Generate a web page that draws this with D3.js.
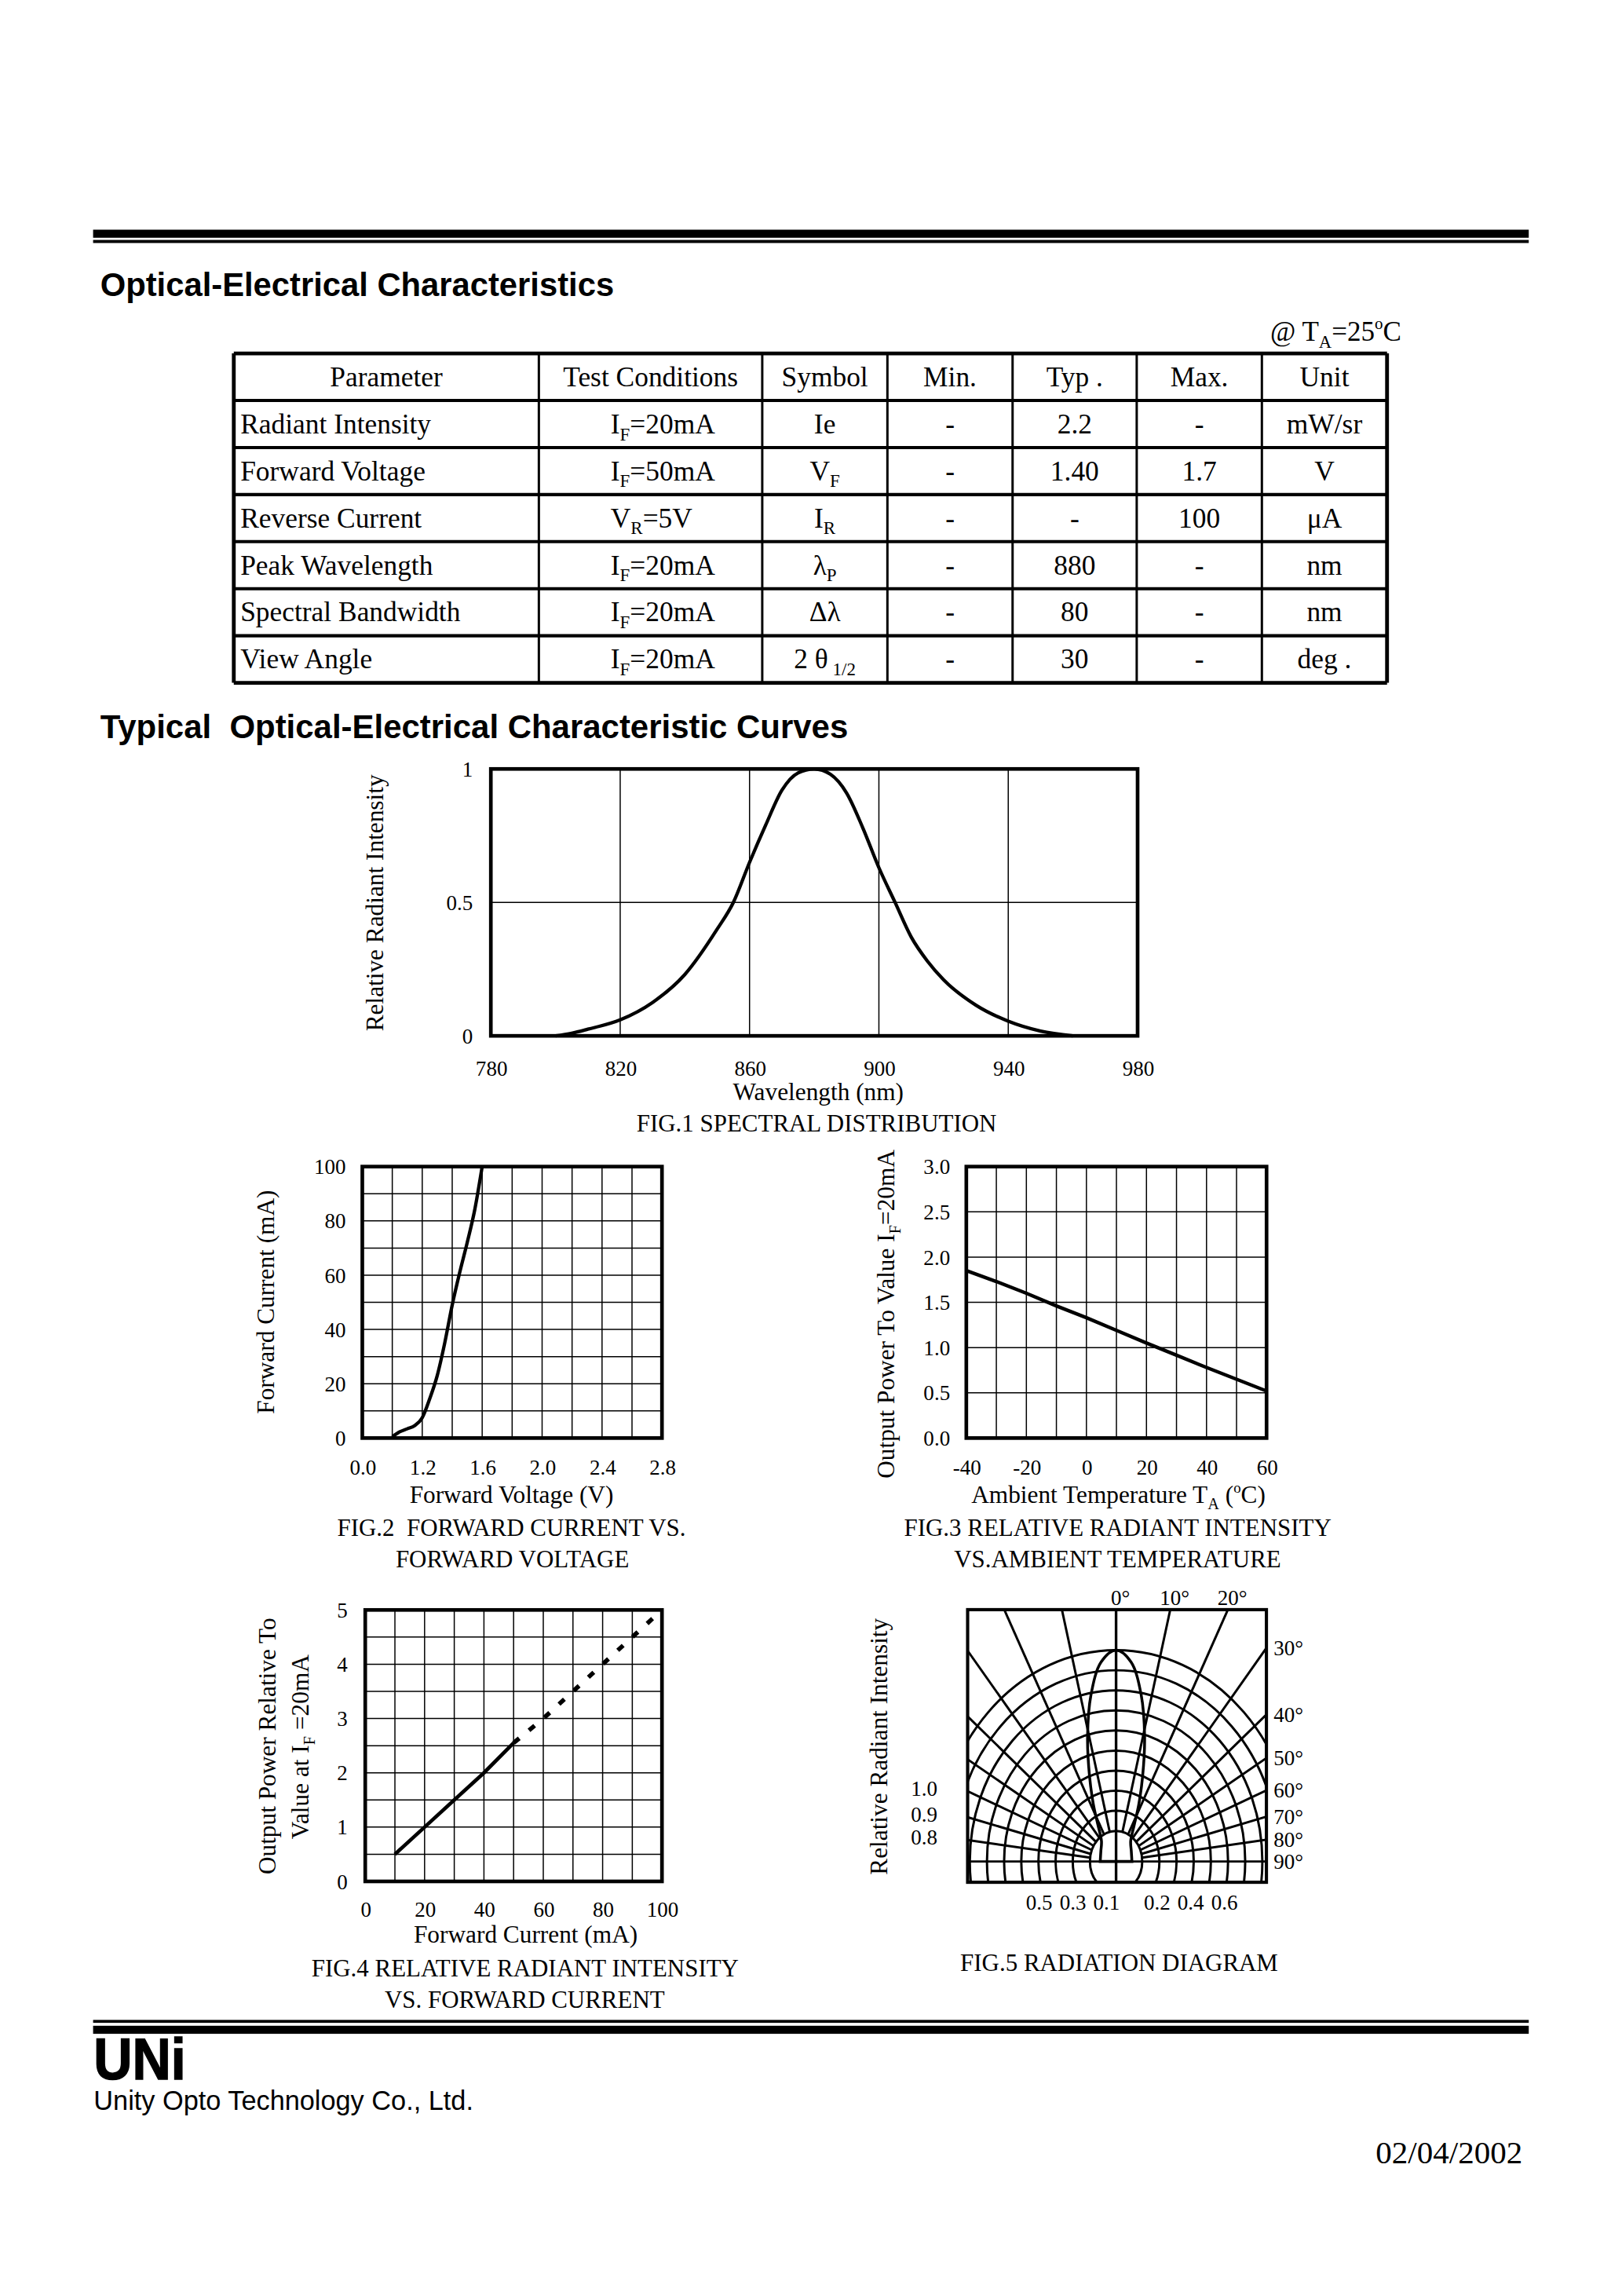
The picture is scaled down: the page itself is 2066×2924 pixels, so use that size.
<!DOCTYPE html>
<html>
<head>
<meta charset="utf-8">
<script src="https://cdn.jsdelivr.net/npm/d3@7"></script>
<style>
  body { margin: 0; background: #fff; }
  text { white-space: pre; }
</style>
</head>
<body>
<div id="page"></div>
<script>
// ---- table data ----
const tableHead = ['Parameter', 'Test Conditions', 'Symbol', 'Min.', 'Typ .', 'Max.', 'Unit']
const parameters = ['Radiant Intensity', 'Forward Voltage', 'Reverse Current', 'Peak Wavelength', 'Spectral Bandwidth', 'View Angle']
const conditions = ['I_{F}=20mA', 'I_{F}=50mA', 'V_{R}=5V', 'I_{F}=20mA', 'I_{F}=20mA', 'I_{F}=20mA']
const symbols = ['Ie', 'V_{F}', 'I_{R}', 'λ_{P}', 'Δλ', '2 θ_{ 1/2}']
const minVals = ['-', '-', '-', '-', '-', '-']
const typVals = ['2.2', '1.40', '-', '880', '80', '30']
const maxVals = ['-', '1.7', '100', '-', '-', '-']
const units = ['mW/sr', 'V', 'μA', 'nm', 'nm', 'deg .']

// ---- FIG.1 spectral distribution ----
const wlTicks = [780, 820, 860, 900, 940, 980]
const relTicks = [0, 0.5, 1]
const relLabels = ['0', '0.5', '1']
const wavelength = [800, 805, 810, 820, 830, 840, 850, 855, 860, 865, 870, 875, 880, 885, 890, 895, 900, 905, 910, 915, 920, 930, 940, 950, 960]
const relIntensity = [0, 0.01, 0.025, 0.06, 0.125, 0.23, 0.4, 0.5, 0.65, 0.79, 0.92, 0.985, 1.0, 0.98, 0.91, 0.78, 0.63, 0.5, 0.37, 0.28, 0.21, 0.115, 0.055, 0.018, 0]

// ---- FIG.2 forward current vs forward voltage ----
const vfTicks = [0.8, 1.2, 1.6, 2.0, 2.4, 2.8]
const vfLabels = ['0.0', '1.2', '1.6', '2.0', '2.4', '2.8']
const ifTicks = [0, 20, 40, 60, 80, 100]
const fwdVoltage = [1.0, 1.05, 1.1, 1.15, 1.2, 1.25, 1.3, 1.35, 1.4, 1.45, 1.5, 1.55, 1.6]
const fwdCurrent = [0.5, 2.3, 3.4, 4.6, 7.5, 14.5, 23, 35, 49, 61, 72, 84, 100]

// ---- FIG.3 relative intensity vs ambient temperature ----
const tempTicks = [-40, -20, 0, 20, 40, 60]
const pow3Ticks = [0, 0.5, 1, 1.5, 2, 2.5, 3]
const ambientTemp = [-40, -30, -20, -10, 0, 10, 20, 30, 40, 50, 60]
const powerVsTemp = [1.85, 1.73, 1.60, 1.46, 1.33, 1.19, 1.05, 0.915, 0.78, 0.65, 0.52]

// ---- FIG.4 relative intensity vs forward current ----
const currentTicks = [0, 20, 40, 60, 80, 100]
const pow4Ticks = [0, 1, 2, 3, 4, 5]
const currentSolid = [10, 20, 30, 40, 50]
const powerSolid = [0.5, 1.0, 1.5, 2.0, 2.55]
const currentDashed = [50, 60, 70, 80, 90, 100]
const powerDashed = [2.55, 3.0, 3.5, 4.0, 4.5, 5.0]

// ---- FIG.5 radiation diagram ----
const radRings = [0.1, 0.2, 0.3, 0.4, 0.5, 0.6, 0.7, 0.8, 0.9, 1.0]
const radSpokes = [10, 20, 30, 40, 50, 60, 70, 80]
const topAngles = [0, 10, 20]
const sideAngles = [30, 40, 50, 60, 70, 80, 90]
const leftValueLabels = ['1.0', '0.9', '0.8']
const leftValueAngles = [-60, -70, -80]
const bottomLeftVals = [0.5, 0.3, 0.1]
const bottomRightVals = [0.2, 0.4, 0.6]
const lobeAngles = [-90, -60, -40, -30, -25, -20, -15, -10, -5, 0, 5, 10, 15, 20, 25, 30, 40, 60, 90]
const lobeValues = [0.04, 0.05, 0.08, 0.16, 0.26, 0.40, 0.59, 0.79, 0.945, 1.0, 0.945, 0.79, 0.59, 0.40, 0.26, 0.16, 0.08, 0.05, 0.04]

const W = 1108, H = 1568
const SERIF = "'Liberation Serif', 'Times New Roman', serif"
const SANS = "'Liberation Sans', Arial, sans-serif"

const svg = d3.select('#page').append('svg')
  .attr('width', 2066).attr('height', 2924)
  .attr('viewBox', `0 0 ${W} ${H}`)
svg.append('rect').attr('width', W).attr('height', H).attr('fill', '#fff')

// text with _{sub} and ^{sup} parts
function rich(t, str, size) {
  let parts = str.split(/(_\{[^}]*\}|\^\{[^}]*\})/).filter(s => s.length)
  let shift = 0
  parts.forEach(p => {
    let target = 0, fs = null
    if (p.startsWith('_{')) { target = size * 0.25; fs = size * 0.65; p = p.slice(2, -1) }
    else if (p.startsWith('^{')) { target = -size * 0.42; fs = size * 0.6; p = p.slice(2, -1) }
    let ts = t.append('tspan').attr('dy', target - shift).text(p)
    if (fs) ts.attr('font-size', fs)
    shift = target
  })
  return t
}

function label(x, y, str, o) {
  o = o || {}
  let size = o.size || 16.7
  let t = svg.append('text')
    .attr('x', x).attr('y', y)
    .attr('font-family', o.family || SERIF)
    .attr('font-size', size)
    .attr('font-weight', o.weight || 'normal')
    .attr('text-anchor', o.anchor || 'middle')
    .attr('fill', '#000')
  return rich(t, str, size)
}

function vlabel(x, y, str, size) {
  let t = svg.append('text')
    .attr('transform', `translate(${x},${y}) rotate(-90)`)
    .attr('font-family', SERIF).attr('font-size', size)
    .attr('text-anchor', 'middle').attr('fill', '#000')
  return rich(t, str, size)
}

// gridded box with bottom/left tick labels
function frame(x, y, o) {
  let g = svg.append('g')
  let [xa, xb] = x.range(), [ya, yb] = y.range()
  g.append('g').selectAll('line').data(o.xGrid).join('line')
    .attr('x1', d => x(d)).attr('x2', d => x(d)).attr('y1', ya).attr('y2', yb)
    .attr('stroke', '#000').attr('stroke-width', 0.8)
  g.append('g').selectAll('line').data(o.yGrid).join('line')
    .attr('y1', d => y(d)).attr('y2', d => y(d)).attr('x1', xa).attr('x2', xb)
    .attr('stroke', '#000').attr('stroke-width', 0.8)

  let ax = g.append('g').attr('transform', `translate(0,${ya})`)
    .call(d3.axisBottom(x).tickValues(o.xTicks).tickSize(0)
      .tickFormat(d => o.xLabels ? o.xLabels[o.xTicks.indexOf(d)] : o.xFormat(d)))
  ax.select('.domain').remove()
  ax.selectAll('text').attr('y', o.xBase).attr('dy', null)
    .attr('font-family', SERIF).attr('font-size', 14.5).attr('fill', '#000')

  let ay = g.append('g').attr('transform', `translate(${xa},0)`)
    .call(d3.axisLeft(y).tickValues(o.yTicks).tickSize(0).tickPadding(o.yPad)
      .tickFormat(d => o.yLabels ? o.yLabels[o.yTicks.indexOf(d)] : o.yFormat(d)))
  ay.select('.domain').remove()
  ay.selectAll('text').attr('font-family', SERIF).attr('font-size', 14.5).attr('fill', '#000')

  g.append('rect')
    .attr('x', xa).attr('y', yb).attr('width', xb - xa).attr('height', ya - yb)
    .attr('fill', 'none').attr('stroke', '#000').attr('stroke-width', 2.5)
  return g
}

function curve(g, x, y, xs, ys, o) {
  o = o || {}
  let line = d3.line().x(d => x(d[0])).y(d => y(d[1])).curve(o.curve || d3.curveLinear)
  return g.append('path')
    .attr('d', line(d3.zip(xs, ys)))
    .attr('fill', 'none').attr('stroke', '#000')
    .attr('stroke-width', o.width || 2.3)
    .attr('stroke-dasharray', o.dash || null)
}

// ---- page header ----
svg.append('rect').attr('x', 63.6).attr('y', 156.8).attr('width', 980.7).attr('height', 5.5).attr('fill', '#000')
svg.append('rect').attr('x', 63.6).attr('y', 163.8).attr('width', 980.7).attr('height', 2.1).attr('fill', '#000')
label(68.5, 202.3, 'Optical-Electrical Characteristics', { family: SANS, weight: 'bold', size: 22.4, anchor: 'start' })
label(957.3, 232.7, '@ T_{A}=25^{o}C', { size: 18.8, anchor: 'end' })

// ---- table ----
const colEdges = [159.7, 368.1, 520.7, 606.2, 691.7, 776.5, 862, 947.5]
const rowY = d3.scaleLinear().domain([0, 7]).range([241.3, 466.3])
let tg = svg.append('g')
tg.selectAll('line.h').data(d3.range(8)).join('line')
  .attr('x1', colEdges[0]).attr('x2', colEdges[7])
  .attr('y1', d => rowY(d)).attr('y2', d => rowY(d))
  .attr('stroke', '#000').attr('stroke-width', d => (d === 0 || d === 7) ? 2.6 : 2.2)
tg.selectAll('line.v').data(colEdges).join('line')
  .attr('x1', d => d).attr('x2', d => d)
  .attr('y1', rowY(0)).attr('y2', rowY(7))
  .attr('stroke', '#000').attr('stroke-width', (d, i) => (i === 0 || i === 7) ? 2.6 : 1.6)

const colMid = i => (colEdges[i] + colEdges[i + 1]) / 2
const rowBase = r => (rowY(r) + rowY(r + 1)) / 2 + 6.3
tableHead.forEach((h, i) => label(colMid(i), rowBase(0), h, { size: 19 }))
const columns = [parameters, conditions, symbols, minVals, typVals, maxVals, units]
columns.forEach((col, c) => {
  col.forEach((v, r) => {
    if (c === 0) label(colEdges[0] + 4.5, rowBase(r + 1), v, { size: 19, anchor: 'start' })
    else if (c === 1) label(colEdges[1] + 49, rowBase(r + 1), v, { size: 19, anchor: 'start' })
    else label(colMid(c), rowBase(r + 1), v, { size: 19 })
  })
})

label(68.5, 503.9, 'Typical  Optical-Electrical Characteristic Curves', { family: SANS, weight: 'bold', size: 22.5, anchor: 'start' })

// ---- FIG.1 ----
let x1 = d3.scaleLinear().domain([780, 980]).range([335.3, 777.1])
let y1 = d3.scaleLinear().domain([0, 1]).range([707.4, 525.1])
let g1 = frame(x1, y1, {
  xGrid: wlTicks, yGrid: [0.5], xTicks: wlTicks, xFormat: d => d, xBase: 27.1,
  yTicks: relTicks, yLabels: relLabels, yPad: 12.3
})
curve(g1, x1, y1, wavelength, relIntensity, { curve: d3.curveMonotoneX, width: 2.3 })
vlabel(261.5, 616.6, 'Relative Radiant Intensity', 16.8)
label(559, 751.5, 'Wavelength (nm)', { size: 16.8 })
label(557.8, 773, 'FIG.1 SPECTRAL DISTRIBUTION', { size: 16.6 })

// ---- FIG.2 ----
let x2 = d3.scaleLinear().domain([0.8, 2.8]).range([247.5, 452.2])
let y2 = d3.scaleLinear().domain([0, 100]).range([982.1, 796.7])
let g2 = frame(x2, y2, {
  xGrid: d3.range(0.8, 2.81, 0.2), yGrid: d3.range(0, 101, 10),
  xTicks: vfTicks, xLabels: vfLabels, xBase: 24.9,
  yTicks: ifTicks, yFormat: d => d, yPad: 11.2
})
curve(g2, x2, y2, fwdVoltage, fwdCurrent, { curve: d3.curveMonotoneX, width: 2.3 })
vlabel(187.2, 889.2, 'Forward Current (mA)', 16.8)
label(349.4, 1026.2, 'Forward Voltage (V)', { size: 16.8 })
label(349.4, 1049, 'FIG.2  FORWARD CURRENT VS.', { size: 16.6 })
label(350, 1070.2, 'FORWARD VOLTAGE', { size: 16.6 })

// ---- FIG.3 ----
let x3 = d3.scaleLinear().domain([-40, 60]).range([660.1, 865.2])
let y3 = d3.scaleLinear().domain([0, 3]).range([982.1, 796.7])
let g3 = frame(x3, y3, {
  xGrid: d3.range(-40, 61, 10), yGrid: pow3Ticks,
  xTicks: tempTicks, xFormat: d => d, xBase: 24.9,
  yTicks: pow3Ticks, yFormat: d3.format('.1f'), yPad: 11.1
})
curve(g3, x3, y3, ambientTemp, powerVsTemp, { width: 2.4 })
vlabel(611, 897.4, 'Output Power To Value I_{F}=20mA', 16.8)
label(764, 1026.6, 'Ambient Temperature T_{A} (^{o}C)', { size: 16.8 })
label(763.5, 1049, 'FIG.3 RELATIVE RADIANT INTENSITY', { size: 16.6 })
label(763.4, 1070.2, 'VS.AMBIENT TEMPERATURE', { size: 16.6 })

// ---- FIG.4 ----
let x4 = d3.scaleLinear().domain([0, 100]).range([249.5, 452.2])
let y4 = d3.scaleLinear().domain([0, 5]).range([1284.9, 1099.5])
let g4 = frame(x4, y4, {
  xGrid: d3.range(0, 101, 10), yGrid: d3.range(0, 5.01, 0.5),
  xTicks: currentTicks, xFormat: d => d, xBase: 23.9,
  yTicks: pow4Ticks, yFormat: d => d, yPad: 12
})
curve(g4, x4, y4, currentSolid, powerSolid, { width: 2.5 })
curve(g4, x4, y4, currentDashed, powerDashed, { width: 3, dash: '5,8.6' })
vlabel(188.5, 1192.5, 'Output Power Relative To', 16.8)
vlabel(211, 1193, 'Value at I_{F} =20mA', 16.8)
label(359.1, 1327, 'Forward Current (mA)', { size: 16.8 })
label(358.7, 1350, 'FIG.4 RELATIVE RADIANT INTENSITY', { size: 16.6 })
label(358.4, 1371, 'VS. FORWARD CURRENT', { size: 16.6 })

// ---- FIG.5 radiation diagram ----
const box5 = { x0: 661.0, x1: 865.1, y0: 1099.3, y1: 1285.5 }
const cx = 762.4, cy = 1271.3
const ringAspect = 0.855, spokeStretch = 1.22
let rScale = d3.scaleLinear().domain([0.1, 1.0]).range([20.9, 144.3])

svg.append('clipPath').attr('id', 'clip5').append('rect')
  .attr('x', box5.x0).attr('y', box5.y0)
  .attr('width', box5.x1 - box5.x0).attr('height', box5.y1 - box5.y0)
let g5 = svg.append('g')
let inner = g5.append('g').attr('clip-path', 'url(#clip5)')

inner.selectAll('ellipse').data(radRings).join('ellipse')
  .attr('cx', cx).attr('cy', cy)
  .attr('rx', d => rScale(d) * ringAspect).attr('ry', d => rScale(d))
  .attr('fill', 'none').attr('stroke', '#000').attr('stroke-width', 1.6)

function spokeDir(a) {
  let phi = Math.sign(a) * Math.atan(spokeStretch * Math.tan(Math.abs(a) * Math.PI / 180))
  return [Math.sin(phi), -Math.cos(phi)]
}
function edgePoint(a) {
  let [sx, sy] = spokeDir(a)
  let tTop = sy < -1e-9 ? (cy - box5.y0) / -sy : Infinity
  let tSide = sx > 1e-9 ? (box5.x1 - cx) / sx : sx < -1e-9 ? (cx - box5.x0) / -sx : Infinity
  let t = Math.min(tTop, tSide)
  return [cx + sx * t, cy + sy * t]
}
let rx0 = rScale(0.1) * ringAspect, ry0 = rScale(0.1)
let spokes = radSpokes.concat(radSpokes.map(d => -d))
inner.selectAll('line.spoke').data(spokes).join('line')
  .attr('x1', d => { let [sx, sy] = spokeDir(d); return cx + sx / Math.hypot(sx / rx0, sy / ry0) })
  .attr('y1', d => { let [sx, sy] = spokeDir(d); return cy + sy / Math.hypot(sx / rx0, sy / ry0) })
  .attr('x2', d => cx + spokeDir(d)[0] * 400)
  .attr('y2', d => cy + spokeDir(d)[1] * 400)
  .attr('stroke', '#000').attr('stroke-width', 1.6)

// 0 and 90 degree axes run across the whole box
inner.append('line').attr('x1', cx).attr('x2', cx).attr('y1', box5.y0).attr('y2', box5.y1)
  .attr('stroke', '#000').attr('stroke-width', 1.8)
inner.append('line').attr('x1', box5.x0).attr('x2', box5.x1).attr('y1', cy).attr('y2', cy)
  .attr('stroke', '#000').attr('stroke-width', 1.6)

let lobeLine = d3.line()
  .x(d => cx + rScale(d[1]) * ringAspect * Math.sin(d[0] * Math.PI / 180))
  .y(d => cy - rScale(d[1]) * Math.cos(d[0] * Math.PI / 180))
  .curve(d3.curveCatmullRom)
inner.append('path')
  .attr('d', lobeLine(d3.zip(lobeAngles, lobeValues)) + 'Z')
  .attr('fill', 'none').attr('stroke', '#000').attr('stroke-width', 1.9)

g5.append('rect')
  .attr('x', box5.x0).attr('y', box5.y0)
  .attr('width', box5.x1 - box5.x0).attr('height', box5.y1 - box5.y0)
  .attr('fill', 'none').attr('stroke', '#000').attr('stroke-width', 2.2)

topAngles.forEach(a => label(edgePoint(a)[0] + 3, 1096.3, a + '°', { size: 14.5 }))
sideAngles.forEach(a => label(870, edgePoint(a)[1] + 5, a + '°', { size: 14.5, anchor: 'start' }))
leftValueLabels.forEach((t, i) => label(631.3, edgePoint(leftValueAngles[i])[1] + 3, t, { size: 14.5 }))

let bx = d3.scaleLinear().domain([-1, 1]).range([cx + 5 - 115, cx + 5 + 115])
bottomLeftVals.forEach(v => label(bx(-v), 1304, d3.format('.1f')(v), { size: 14.5 }))
bottomRightVals.forEach(v => label(bx(v), 1304, d3.format('.1f')(v), { size: 14.5 }))

vlabel(606, 1192.8, 'Relative Radiant Intensity', 16.8)
label(764.5, 1346, 'FIG.5 RADIATION DIAGRAM', { size: 16.6 })

// ---- footer ----
svg.append('rect').attr('x', 63.6).attr('y', 1379.5).attr('width', 980.7).attr('height', 2).attr('fill', '#000')
svg.append('rect').attr('x', 63.6).attr('y', 1383.5).attr('width', 980.7).attr('height', 5.5).attr('fill', '#000')
svg.append('text').attr('x', 64).attr('y', 1420)
  .attr('font-family', SANS).attr('font-weight', 'bold').attr('font-size', 40)
  .attr('textLength', 63).attr('lengthAdjust', 'spacingAndGlyphs')
  .attr('stroke', '#000').attr('stroke-width', 0.8)
  .text('UNi')
label(64, 1441, 'Unity Opto Technology Co., Ltd.', { family: SANS, size: 18.4, anchor: 'start' })
label(1040, 1477.5, '02/04/2002', { size: 22, anchor: 'end' })
</script>
</body>
</html>
